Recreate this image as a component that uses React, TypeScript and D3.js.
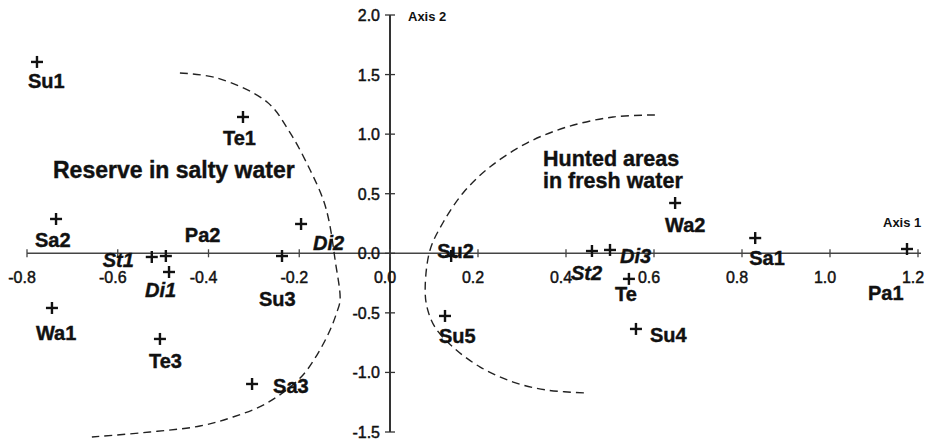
import React from "react";
import * as d3 from "d3";

// ---- data ----
const pointNames = ["Su1","Te1","Sa2","St1","Pa2","Di1","Su3","Di2","Wa1","Te3","Sa3","Su2","Su5","St2","Di3","Te","Su4","Wa2","Sa1","Pa1"];
const axis1Values = [-0.778,-0.324,-0.736,-0.525,-0.494,-0.487,-0.238,-0.196,-0.745,-0.507,-0.304,0.139,0.125,0.459,0.5,0.543,0.559,0.648,0.83,1.175];
const axis2Values = [1.606,1.144,0.288,-0.031,-0.023,-0.157,-0.023,0.246,-0.459,-0.719,-1.097,-0.023,-0.526,0.019,0.028,-0.215,-0.635,0.422,0.128,0.036];
const italicNames = ["St1","Di1","Di2","St2","Di3"];

const xTicks = [-0.8,-0.6,-0.4,-0.2,0.0,0.2,0.4,0.6,0.8,1.0,1.2];
const yTicks = [2.0,1.5,1.0,0.5,0.0,-0.5,-1.0,-1.5];

// group boundaries (data units)
const saltyCurve: [number, number][] = [
  [-0.463,1.513],[-0.381,1.471],[-0.271,1.27],[-0.22,1.01],[-0.176,0.699],[-0.147,0.448],
  [-0.134,0.263],[-0.121,-0.056],[-0.110,-0.392],[-0.117,-0.493],[-0.132,-0.644],[-0.161,-0.854],
  [-0.198,-1.047],[-0.271,-1.257],[-0.346,-1.374],[-0.419,-1.45],[-0.529,-1.5],[-0.657,-1.542]
];
const freshCurve: [number, number][] = [
  [0.602,1.161],[0.507,1.144],[0.402,1.06],[0.311,0.925],[0.227,0.724],[0.166,0.506],
  [0.12,0.254],[0.091,0.028],[0.08,-0.283],[0.084,-0.451],[0.102,-0.619],[0.143,-0.787],
  [0.205,-0.955],[0.28,-1.081],[0.357,-1.148],[0.45,-1.173]
];

// label placement relative to marker (px)
const labelOffsets: Record<string, [number, number]> = {
  Su1:[-9,26], Te1:[-20,28], Sa2:[-21,28], St1:[-49,10], Pa2:[19,-14], Di1:[-24,25],
  Su3:[-23,50], Di2:[12,26], Wa1:[-16,32], Te3:[-11,29], Sa3:[21,9], Su2:[-14,2],
  Su5:[-6,27], St2:[-21,29], Di3:[10,13], Te:[-14,22], Su4:[14,13], Wa2:[-10,29],
  Sa1:[-6,27], Pa1:[-39,51]
};

const W = 930, H = 445;
const FONT = "'Liberation Sans', Arial, Helvetica, sans-serif";

export default function App() {
  const x = d3.scaleLinear().domain([-0.8, 0, 1.2]).range([27, 390, 918]);
  const y = d3.scaleLinear().domain([-1.5, 2.0]).range([432, 15]);
  const line = d3.line<[number, number]>()
    .x(d => x(d[0])).y(d => y(d[1]))
    .curve(d3.curveCatmullRom.alpha(0.5));

  const x0 = x(0), y0 = y(0);
  const ink = "#111";

  return (
    <svg width={W} height={H} style={{ position: "absolute", left: 0, top: 0, background: "#fff" }}
      fontFamily={FONT}>
      <rect width={W} height={H} fill="#fff" />
      {/* axes */}
      <line x1={x(-0.8)} x2={x(1.2) + 3} y1={y0} y2={y0} stroke="#444" strokeWidth={1.6} />
      <line x1={x0} x2={x0} y1={y(2.0)} y2={y(-1.5)} stroke="#333" strokeWidth={2} />
      {xTicks.map(t => (
        <g key={"xt" + t}>
          <line x1={x(t)} x2={x(t)} y1={y0 - 4} y2={y0 + 4} stroke="#444" strokeWidth={1.3} />
          <text x={x(t) - 5} y={y0 + 30} fontSize={16} textAnchor="middle" fill={ink}
            stroke={ink} strokeWidth={0.45}>{t.toFixed(1)}</text>
        </g>
      ))}
      {yTicks.map(t => (
        <g key={"yt" + t}>
          <line x1={x0 - 5} x2={x0 + 5} y1={y(t)} y2={y(t)} stroke="#333" strokeWidth={1.3} />
          <text x={x0 - 10} y={y(t) + 6} fontSize={16} textAnchor="end" fill={ink}
            stroke={ink} strokeWidth={0.45}>{t.toFixed(1)}</text>
        </g>
      ))}
      <text x={x0 + 18} y={21} fontSize={13} fontWeight="bold" fill={ink}>Axis 2</text>
      <text x={883} y={227} fontSize={13} fontWeight="bold" fill={ink}>Axis 1</text>

      {/* group boundaries */}
      <path d={line(saltyCurve) || ""} fill="none" stroke="#222" strokeWidth={1.4} strokeDasharray="8 5" />
      <path d={line(freshCurve) || ""} fill="none" stroke="#222" strokeWidth={1.4} strokeDasharray="8 5" />

      <text x={53} y={178} fontSize={23} fontWeight="bold" fill={ink} stroke={ink} strokeWidth={0.4}>Reserve in salty water</text>
      <text x={543} y={166} fontSize={21.5} fontWeight="bold" fill={ink} stroke={ink} strokeWidth={0.4}>Hunted areas</text>
      <text x={543} y={188} fontSize={21.5} fontWeight="bold" fill={ink} stroke={ink} strokeWidth={0.4}>in fresh water</text>

      {/* points */}
      {pointNames.map((name, i) => {
        const px = x(axis1Values[i]);
        const py = y(axis2Values[i]);
        const [dx, dy] = labelOffsets[name];
        return (
          <g key={name}>
            <line x1={px - 6} x2={px + 6} y1={py} y2={py} stroke={ink} strokeWidth={2.4} />
            <line x1={px} x2={px} y1={py - 6} y2={py + 6} stroke={ink} strokeWidth={2.4} />
            <text x={px + dx} y={py + dy} fontSize={20} fontWeight="bold"
              fontStyle={italicNames.includes(name) ? "italic" : "normal"} fill={ink}
              stroke={ink} strokeWidth={0.4}>{name}</text>
          </g>
        );
      })}
    </svg>
  );
}
